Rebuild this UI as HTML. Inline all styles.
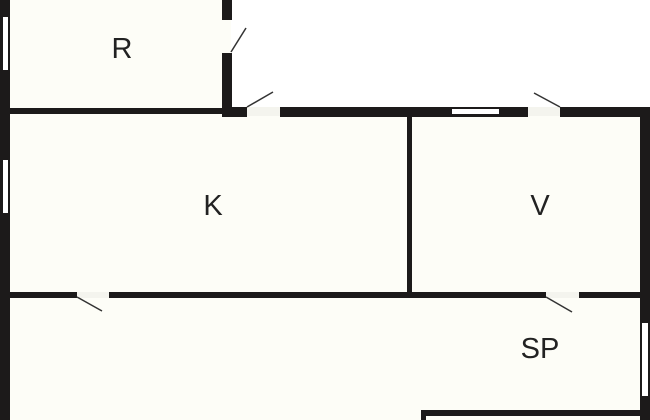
<!DOCTYPE html>
<html><head><style>
html,body{margin:0;padding:0;background:#fff;}
svg{display:block;}
text{font-family:"Liberation Sans",sans-serif;font-size:29px;fill:#222;text-anchor:middle;}
</style></head><body>
<svg width="650" height="420" viewBox="0 0 650 420">
<!-- room fills -->
<rect x="10" y="0" width="213" height="112" fill="#fdfdf7"/>
<rect x="10" y="112" width="632" height="308" fill="#fdfdf7"/>
<!-- outer left wall -->
<rect x="0" y="0" width="10" height="420" fill="#1c1a1a"/>
<rect x="3" y="17" width="5" height="53" fill="#fff"/>
<rect x="3" y="160" width="5" height="53" fill="#fff"/>
<!-- R bottom wall -->
<rect x="10" y="108" width="214" height="6" fill="#1c1a1a"/>
<!-- R right wall -->
<rect x="222" y="0" width="10" height="20" fill="#1c1a1a"/>
<rect x="222" y="53" width="10" height="64" fill="#1c1a1a"/>
<rect x="222" y="20" width="9" height="33" fill="#fdfdf7"/>
<line x1="231" y1="52" x2="246" y2="28" stroke="#333" stroke-width="1.5"/>
<!-- top wall K/V -->
<rect x="222" y="107" width="25" height="10" fill="#1c1a1a"/>
<rect x="247" y="107" width="33" height="9" fill="#f4f4ee"/>
<line x1="247" y1="107" x2="273" y2="92" stroke="#333" stroke-width="1.5"/>
<rect x="280" y="107" width="248" height="10" fill="#1c1a1a"/>
<rect x="452" y="109" width="47" height="5" fill="#fff"/>
<rect x="528" y="107" width="32" height="9" fill="#f4f4ee"/>
<line x1="560" y1="107" x2="534" y2="93" stroke="#333" stroke-width="1.5"/>
<rect x="560" y="107" width="90" height="10" fill="#1c1a1a"/>
<!-- right wall -->
<rect x="640" y="107" width="10" height="313" fill="#1c1a1a"/>
<rect x="642" y="323" width="6" height="73" fill="#fff"/>
<!-- K/V divider -->
<rect x="407" y="117" width="5" height="180" fill="#1c1a1a"/>
<!-- middle horizontal wall -->
<rect x="10" y="292" width="67" height="6" fill="#1c1a1a"/>
<rect x="77" y="292" width="32" height="6" fill="#f4f4ee"/>
<line x1="77" y1="297" x2="102" y2="311" stroke="#333" stroke-width="1.5"/>
<rect x="109" y="292" width="437" height="6" fill="#1c1a1a"/>
<rect x="546" y="292" width="33" height="6" fill="#f4f4ee"/>
<line x1="546" y1="297" x2="572" y2="312" stroke="#333" stroke-width="1.5"/>
<rect x="579" y="292" width="62" height="6" fill="#1c1a1a"/>
<!-- bottom partial -->
<rect x="421" y="410" width="220" height="6" fill="#1c1a1a"/>
<rect x="421" y="410" width="5" height="10" fill="#1c1a1a"/>
<!-- labels -->
<text x="122" y="58">R</text>
<text x="213" y="215">K</text>
<text x="540" y="215">V</text>
<text x="540" y="358">SP</text>
</svg>
</body></html>
